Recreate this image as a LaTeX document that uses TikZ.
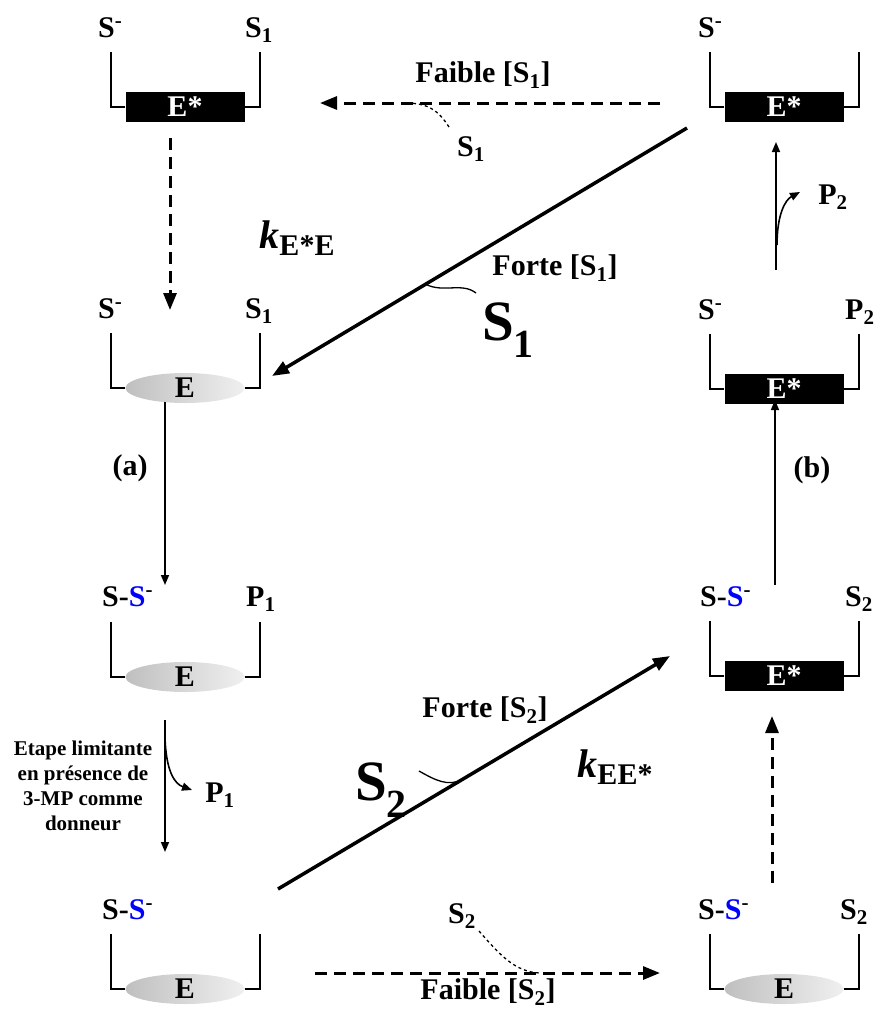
\documentclass[tikz,border=0pt]{standalone}
\usepackage{fontspec}
\setmainfont{Liberation Serif}
\usetikzlibrary{arrows.meta,shapes.geometric}

\newcommand{\Sm}{S\textsuperscript{-}}
\newcommand{\SSm}{S-\textcolor{blue}{S}\textsuperscript{-}}

\begin{document}
\begin{tikzpicture}[x=1pt,y=-1pt,>={Triangle[length=17pt,width=13pt]},
  lab/.style={font=\fontsize{30}{32}\selectfont\bfseries,inner sep=0pt},
  small/.style={font=\fontsize{21}{25}\selectfont\bfseries,inner sep=0pt,align=center},
  big/.style={font=\fontsize{57}{60}\selectfont\bfseries,inner sep=0pt},
  estar/.style={rectangle,fill=black,text=white,minimum width=119pt,minimum height=30pt,
    inner sep=0pt,font=\fontsize{30}{32}\selectfont\bfseries},
  enz/.style={ellipse,left color=gray!50,middle color=gray!58,right color=gray!12,
    minimum width=119pt,minimum height=30pt,inner sep=0pt,
    font=\fontsize{30}{32}\selectfont\bfseries},
  bracket/.style={line width=2pt},
  fast/.style={->,line width=3.5pt},
  slow/.style={->,line width=3pt,dash pattern=on 12pt off 7pt},
  conv/.style={-{Triangle[length=10pt,width=8pt]},line width=1.6pt},
  twig/.style={line width=1.3pt}]
  \useasboundingbox (0,0) rectangle (875,1010);

  % enzyme forms
  \node[estar] (tl) at (185,107) {E*};
  \node[estar] (tr) at (784,107) {E*};
  \node[enz]   (ml) at (185,388) {E};
  \node[estar] (mr) at (784,389) {E*};
  \node[enz]   (pl) at (185,677) {E};
  \node[estar] (pr) at (784,676) {E*};
  \node[enz]   (bl) at (185,989) {E};
  \node[enz]   (br) at (784,989) {E};
  \foreach \n in {tl,tr,ml,mr,pl,pr,bl,br}
    \draw[bracket] (\n.west) -- ++(-14,0) -- ++(0,-55)
                   (\n.east) -- ++(15,0) -- ++(0,-55);

  % bound groups
  \node[lab,anchor=base west] (tl-a) at (98,37)   {\Sm};
  \node[lab,anchor=base west] (tl-b) at (245,37)  {S\textsubscript{1}};
  \node[lab,anchor=base west] (tr-a) at (698,37)  {\Sm};
  \node[lab,anchor=base west] (ml-a) at (98,318)  {\Sm};
  \node[lab,anchor=base west] (ml-b) at (245,318) {S\textsubscript{1}};
  \node[lab,anchor=base west] (mr-a) at (698,319) {\Sm};
  \node[lab,anchor=base west] (mr-b) at (845,319) {P\textsubscript{2}};
  \node[lab,anchor=base west] (pl-a) at (102,606) {\SSm};
  \node[lab,anchor=base west] (pl-b) at (246,606) {P\textsubscript{1}};
  \node[lab,anchor=base west] (pr-a) at (700,606) {\SSm};
  \node[lab,anchor=base west] (pr-b) at (845,606) {S\textsubscript{2}};
  \node[lab,anchor=base west] (bl-a) at (102,919) {\SSm};
  \node[lab,anchor=base west] (br-a) at (698,919) {\SSm};
  \node[lab,anchor=base west] (br-b) at (840,919) {S\textsubscript{2}};

  % arrow ends
  \coordinate (tl-out) at (170,138);
  \coordinate (ml-in)  at (170,310);
  \coordinate (tr-w)   at (660,103);
  \coordinate (tl-e)   at (320,103);
  \coordinate (tr-sw)  at (687,128);
  \coordinate (ml-ne)  at (272,376);
  \coordinate (ml-out) at (165,402);
  \coordinate (pl-in)  at (165,585);
  \coordinate (pl-out) at (165,720);
  \coordinate (bl-in)  at (165,852);
  \coordinate (bl-ne)  at (278,889);
  \coordinate (pr-sw)  at (670,656);
  \coordinate (bl-e)   at (315,973);
  \coordinate (br-w)   at (660,973);
  \coordinate (br-out) at (772,883);
  \coordinate (pr-in)  at (772,716);
  \coordinate (pr-out) at (775,585);
  \coordinate (mr-in)  at (775,400);
  \coordinate (mr-out) at (776,270);
  \coordinate (tr-in)  at (776,142);

  % fast and slow routes
  \draw[slow] (tl-out) -- (ml-in);
  \draw[slow] (tr-w) -- (tl-e);
  \draw[fast] (tr-sw) -- (ml-ne) coordinate[pos=0.63] (j1);
  \draw[fast] (bl-ne) -- (pr-sw) coordinate[pos=0.47] (j2);
  \draw[slow] (bl-e) -- (br-w);
  \draw[slow] (br-out) -- (pr-in);

  % chemical steps
  \draw[conv] (ml-out) -- (pl-in);
  \draw[conv] (pl-out) -- (bl-in);
  \draw[conv] (pr-out) -- (mr-in);
  \draw[conv] (mr-out) -- (tr-in);

  % texts
  \node[lab] (fa1) at (483,75)  {Faible [S\textsubscript{1}]};
  \node[lab] (s1w) at (471,149) {S\textsubscript{1}};
  \node[lab] (fo1) at (555,268) {Forte [S\textsubscript{1}]};
  \node[big,anchor=base west] (s1f) at (482,340) {S\textsubscript{1}};
  \node[lab] (k1)  at (297,238)
    {{\fontsize{40}{40}\selectfont\itshape k}\raisebox{-7pt}{E*E}};
  \node[lab] (a)   at (130,468) {(a)};
  \node[lab] (b)   at (812,470) {(b)};
  \node[lab] (p2)  at (833,197) {P\textsubscript{2}};
  \node[lab] (p1)  at (220,795) {P\textsubscript{1}};
  \node[small] (lim) at (83,786)
    {Etape limitante\\en présence de\\3-MP comme\\donneur};
  \node[lab] (fo2) at (485,710) {Forte [S\textsubscript{2}]};
  \node[big,anchor=base west] (s2f) at (355,800) {S\textsubscript{2}};
  \node[lab] (k2)  at (615,767)
    {{\fontsize{40}{40}\selectfont\itshape k}\raisebox{-7pt}{EE*}};
  \node[lab] (s2w) at (462,916) {S\textsubscript{2}};
  \node[lab] (fa2) at (488,992) {Faible [S\textsubscript{2}]};

  % substrate and product joins
  \draw[twig,dashed] (449,127) .. controls (438,110) and (428,103) .. (405,103);
  \draw[twig,dashed] (479,931) .. controls (500,955) and (515,972) .. (540,973);
  \draw[twig] (j1) .. controls ([xshift=18pt,yshift=-9pt]j1) and (462,282) .. (476,293);
  \draw[twig] (419,771) .. controls (435,780) and (448,787) .. (j2);
  \draw[conv] (165,737) .. controls (166,772) and (175,784) .. (192,790);
  \draw[conv] (777,245) .. controls (777,215) and (785,200) .. (800,192);
\end{tikzpicture}
\end{document}
